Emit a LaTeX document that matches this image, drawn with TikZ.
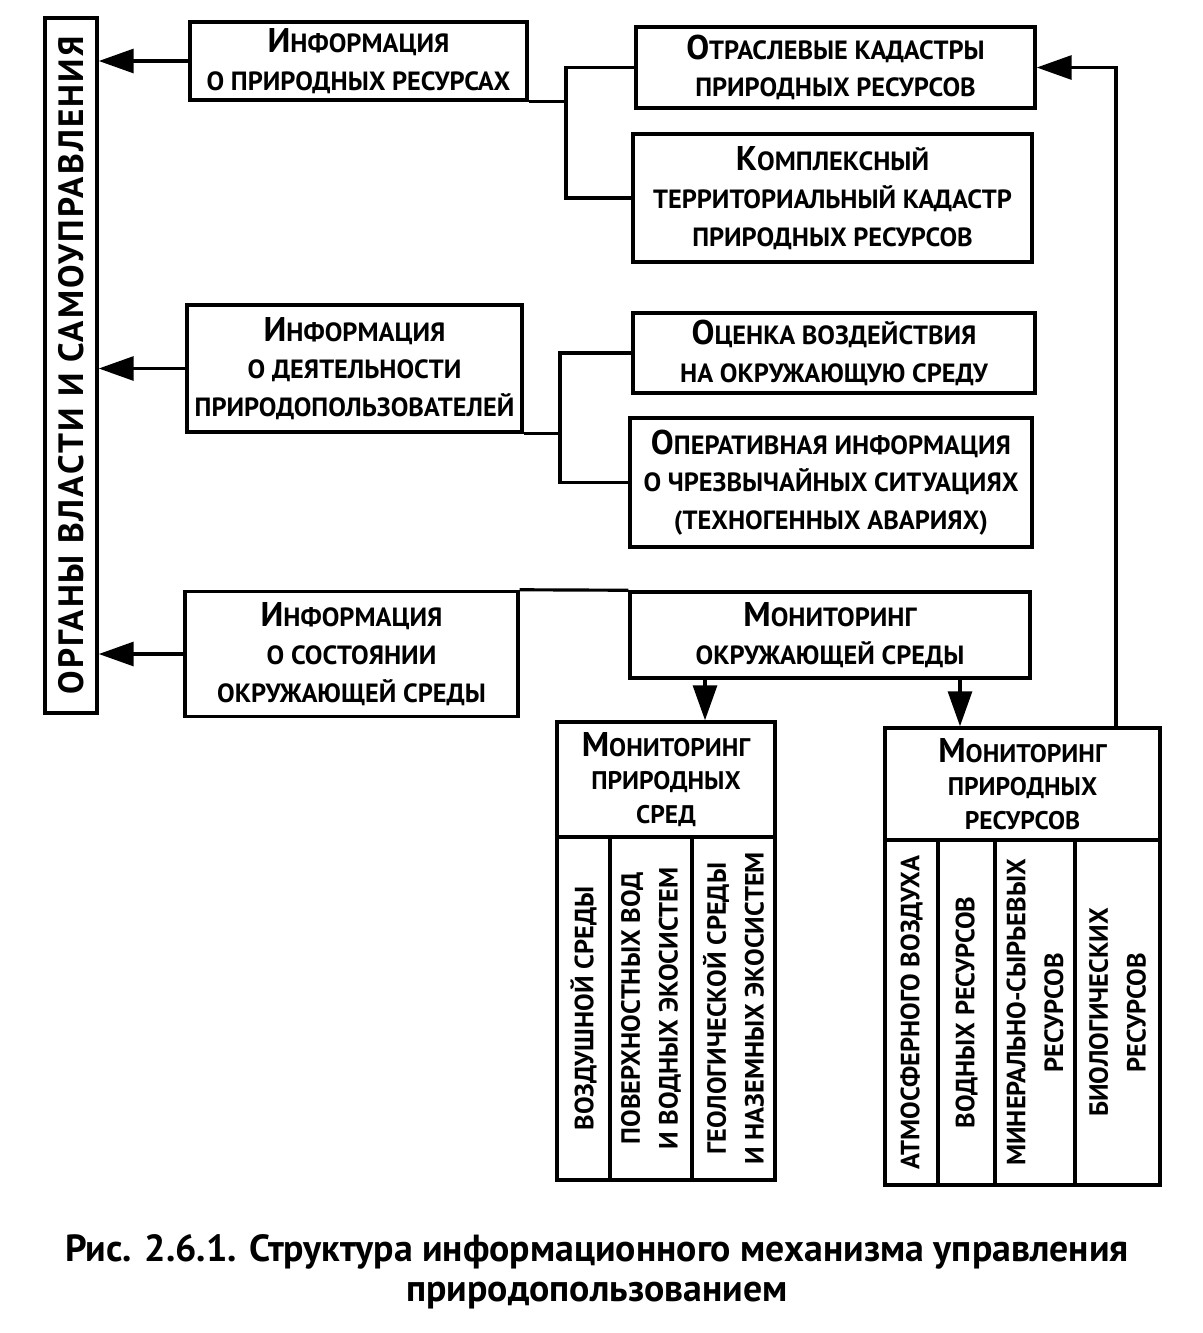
\documentclass[tikz,border=0pt]{standalone}
\usepackage{fontspec}
\setmainfont{PT Sans}
\usetikzlibrary{arrows.meta,positioning}

\newcommand{\Ini}[1]{{\fontsize{19.5}{21}\selectfont #1}}

\begin{document}
\begin{tikzpicture}[x=0.02cm, y=-0.02cm, >={Triangle[length=0.7cm,width=0.48cm]}]
    \tikzstyle{box} = [
        draw=black,
        line width=2pt,
        rectangle,
        inner sep=0pt,
        align=center,
        font=\fontsize{15}{21.5}\selectfont\bfseries
    ]
    \tikzstyle{head} = [box, font=\fontsize{14.5}{19}\selectfont\bfseries]
    \tikzstyle{col} = [box, rotate=90, font=\fontsize{15}{21.5}\selectfont\bfseries]
    \tikzstyle{link} = [line width=1.8pt]

    \useasboundingbox (0,0) rectangle (1203,1333);

    % organs of power
    \node[box, rotate=90, minimum width=13.9cm, minimum height=1.04cm,
          font=\fontsize{20}{24}\selectfont\bfseries\addfontfeature{LetterSpace=6}] (org) at (71, 365.5)
          {ОРГАНЫ ВЛАСТИ И САМОУПРАВЛЕНИЯ};

    % information blocks
    \node[box, minimum width=6.74cm, minimum height=1.56cm] (infres) at (358.5, 61)
          {\Ini{И}НФОРМАЦИЯ\\О ПРИРОДНЫХ РЕСУРСАХ};
    \node[box, minimum width=6.7cm, minimum height=2.54cm] (infact) at (354.5, 368.5)
          {\Ini{И}НФОРМАЦИЯ\\О ДЕЯТЕЛЬНОСТИ\\ПРИРОДОПОЛЬЗОВАТЕЛЕЙ};
    \node[box, minimum width=6.66cm, minimum height=2.5cm] (infstate) at (351.5, 654)
          {\Ini{И}НФОРМАЦИЯ\\О СОСТОЯНИИ\\ОКРУЖАЮЩЕЙ СРЕДЫ};

    % sources
    \node[box, minimum width=7.98cm, minimum height=1.62cm] (otr) at (835.5, 67.5)
          {\Ini{О}ТРАСЛЕВЫЕ КАДАСТРЫ\\ПРИРОДНЫХ РЕСУРСОВ};
    \node[box, minimum width=7.98cm, minimum height=2.56cm] (kompl) at (832.5, 198)
          {\Ini{К}ОМПЛЕКСНЫЙ\\ТЕРРИТОРИАЛЬНЫЙ КАДАСТР\\ПРИРОДНЫХ РЕСУРСОВ};
    \node[box, minimum width=8.04cm, minimum height=1.6cm] (ocenka) at (834, 353)
          {\Ini{О}ЦЕНКА ВОЗДЕЙСТВИЯ\\НА ОКРУЖАЮЩУЮ СРЕДУ};
    \node[box, minimum width=8.04cm, minimum height=2.58cm] (operat) at (831, 482.5)
          {\Ini{О}ПЕРАТИВНАЯ ИНФОРМАЦИЯ\\О ЧРЕЗВЫЧАЙНЫХ СИТУАЦИЯХ\\(ТЕХНОГЕННЫХ АВАРИЯХ)};
    \node[box, minimum width=8cm, minimum height=1.72cm] (monenv) at (830, 635)
          {\Ini{М}ОНИТОРИНГ\\ОКРУЖАЮЩЕЙ СРЕДЫ};

    % monitoring of natural media
    \node[head, minimum width=4.36cm, minimum height=2.3cm] (monsr) at (666, 779.5)
          {\Ini{М}ОНИТОРИНГ\\ПРИРОДНЫХ\\СРЕД};
    \node[col, minimum width=6.86cm, minimum height=1.06cm] (sr1) at (583.5, 1008.5)
          {ВОЗДУШНОЙ СРЕДЫ};
    \node[col, minimum width=6.86cm, minimum height=1.64cm] (sr2) at (651, 1008.5)
          {ПОВЕРХНОСТНЫХ ВОД\\И ВОДНЫХ ЭКОСИСТЕМ};
    \node[col, minimum width=6.86cm, minimum height=1.66cm] (sr3) at (733.5, 1008.5)
          {ГЕОЛОГИЧЕСКОЙ СРЕДЫ\\И НАЗЕМНЫХ ЭКОСИСТЕМ};

    % monitoring of natural resources
    \node[head, minimum width=5.5cm, minimum height=2.24cm] (monres) at (1022.5, 784)
          {\Ini{М}ОНИТОРИНГ\\ПРИРОДНЫХ\\РЕСУРСОВ};
    \node[col, minimum width=6.9cm, minimum height=1.06cm] (rs1) at (911.5, 1012.5)
          {АТМОСФЕРНОГО ВОЗДУХА};
    \node[col, minimum width=6.9cm, minimum height=1.14cm] (rs2) at (966.5, 1012.5)
          {ВОДНЫХ РЕСУРСОВ};
    \node[col, minimum width=6.9cm, minimum height=1.6cm] (rs3) at (1035, 1012.5)
          {МИНЕРАЛЬНО-СЫРЬЕВЫХ\\РЕСУРСОВ};
    \node[col, minimum width=6.9cm, minimum height=1.7cm] (rs4) at (1117.5, 1012.5)
          {БИОЛОГИЧЕСКИХ\\РЕСУРСОВ};

    % caption
    \node[align=center, font=\fontsize{21.5}{23}\selectfont\bfseries] (caption) at (597, 1272)
          {Рис. 2.6.1. Структура информационного механизма управления\\природопользованием};

    % bends of the connectors
    \coordinate (sp1) at (566, 0);
    \coordinate (sp2) at (560, 0);
    \coordinate (fb) at (1116, 0);
    \coordinate (dn1) at (705, 0);
    \coordinate (dn2) at (960, 0);

    % information -> organs (org is turned, its south side faces right)
    \draw[link, ->] (infres.west) -- (infres.west -| org.south);
    \draw[link, ->] (infact.west) -- (infact.west -| org.south);
    \draw[link, ->] (infstate.west) -- (infstate.west -| org.south);

    % cadastres -> information on resources
    \draw[link] (infres.south east) -- (infres.south east -| sp1);
    \draw[link] (otr.west) -- (otr.west -| sp1) -- (kompl.west -| sp1) -- (kompl.west);

    % assessment, emergencies -> information on activity
    \draw[link] (infact.south east) -- (infact.south east -| sp2);
    \draw[link] (ocenka.west) -- (ocenka.west -| sp2) -- (operat.west -| sp2) -- (operat.west);

    % monitoring -> information on state
    \draw[link] (infstate.north east) -- (monenv.north west);
    \draw[link, ->] (monenv.south -| dn1) -- (monsr.north -| dn1);
    \draw[link, ->] (monenv.south -| dn2) -- (monres.north -| dn2);

    % resources monitoring -> cadastres
    \draw[link, ->] (monres.north -| fb) -- (fb |- otr.east) -- (otr.east);
\end{tikzpicture}
\end{document}
